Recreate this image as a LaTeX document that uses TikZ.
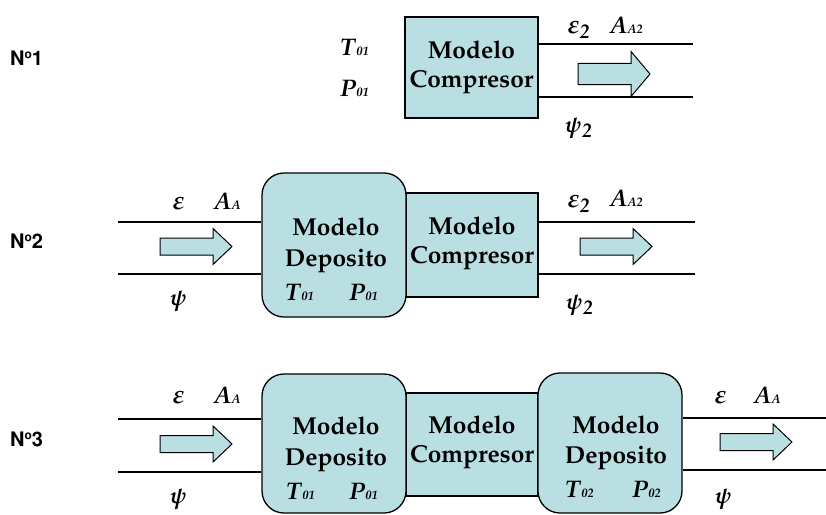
\documentclass[tikz,border=0pt]{standalone}
\usepackage[T1]{fontenc}
\usepackage{mathpazo}
\definecolor{boxfill}{RGB}{185,223,227}
\newcommand{\bsub}[2]{\textbf{\textit{#1}}{\fontsize{12.5}{12.5}\selectfont\bfseries\itshape #2}}
\newcommand{\gsym}[1]{{\boldmath\fontsize{26}{26}\selectfont$#1$}}
\newcommand{\gpsi}{{\boldmath\fontsize{23}{23}\selectfont$\psi$}}
\newcommand{\lowtwo}{\raisebox{-5pt}{\fontsize{20}{20}\selectfont\itshape 2}}
\newcommand{\numlab}[1]{{\fontfamily{phv}\fontseries{b}\selectfont N\raisebox{0.32em}{\fontsize{12}{12}\selectfont o}#1}}
\begin{document}
\begin{tikzpicture}[x=1pt,y=-1pt,
  pipe/.style={line width=1.3pt},
  cbox/.style={draw, line width=1.3pt, fill=boxfill, inner sep=0pt},
  dbox/.style={cbox, rounded corners=22pt},
  big/.style={font=\fontsize{24.5}{28}\selectfont\bfseries, anchor=base, inner sep=0pt},
  sym/.style={font=\fontsize{24}{24}\selectfont\bfseries, anchor=base west, inner sep=0pt},
  num/.style={font=\fontsize{20}{20}\selectfont, anchor=base west, inner sep=0pt},
  flow/.pic={\draw[line width=1pt, fill=boxfill] (0,-8.5) -- (53,-8.5) -- (53,-18) -- (72,0) -- (53,18) -- (53,8.5) -- (0,8.5) -- cycle;}
]
\useasboundingbox (0,0) rectangle (826,514);

% ---------- Row 1 ----------
\node[num] (n1) at (10,65) {\numlab{1}};
\node[cbox, minimum width=133pt, minimum height=101pt] (c1) at (471.5,67.5) {};
\node[big] (c1a) at (471.5,58) {Modelo};
\node[big] (c1b) at (471.5,87) {Compresor};
\node[sym] (t1) at (340,55) {\bsub{T}{01}};
\node[sym] (p1) at (340,96) {\bsub{P}{01}};
\coordinate (r1t) at (693,44);
\coordinate (r1b) at (693,97);
\draw[pipe] (c1.east |- r1t) -- (r1t);
\draw[pipe] (c1.east |- r1b) -- (r1b);
\pic[yscale=1.25] at (578,74) {flow};
\node[sym] (e1) at (567,33) {\gsym{\varepsilon}\lowtwo};
\node[sym] (a1) at (610,33) {\bsub{A}{A2}};
\node[sym] (s1) at (564,132) {\gpsi\lowtwo};

% ---------- Row 2 ----------
\node[num] (n2) at (10,248) {\numlab{2}};
\node[cbox, minimum width=132pt, minimum height=104pt] (c2) at (472,245) {};
\node[dbox, minimum width=144pt, minimum height=144pt] (d2) at (334,245) {};
\node[big] (d2a) at (336,235) {Modelo};
\node[big] (d2b) at (336,266) {Deposito};
\node[sym] (t2) at (285,300) {\bsub{T}{01}};
\node[sym] (p2) at (349,300) {\bsub{P}{01}};
\node[big] (c2a) at (472,234) {Modelo};
\node[big] (c2b) at (472,263) {Compresor};
\coordinate (l2t) at (118,222);
\coordinate (l2b) at (118,274);
\draw[pipe] (l2t) -- (d2.west |- l2t);
\draw[pipe] (l2b) -- (d2.west |- l2b);
\coordinate (r2t) at (695,222);
\coordinate (r2b) at (695,274);
\draw[pipe] (c2.east |- r2t) -- (r2t);
\draw[pipe] (c2.east |- r2b) -- (r2b);
\pic at (160,246.5) {flow};
\pic at (580,246.5) {flow};
\node[sym] (e2) at (172,209) {\gsym{\varepsilon}};
\node[sym] (a2) at (214,209) {\bsub{A}{A}};
\node[sym] (s2) at (169,305) {\gpsi};
\node[sym] (e2b) at (567,207) {\gsym{\varepsilon}\lowtwo};
\node[sym] (a2b) at (610,206) {\bsub{A}{A2}};
\node[sym] (s2b) at (565,309) {\gpsi\lowtwo};

% ---------- Row 3 ----------
\node[num] (n3) at (10,446) {\numlab{3}};
\node[cbox, minimum width=132pt, minimum height=103pt] (c3) at (472,444.5) {};
\node[dbox, minimum width=144pt, minimum height=139pt] (d3) at (334,443.5) {};
\node[dbox, minimum width=144pt, minimum height=140pt] (d4) at (610,443) {};
\node[big] (d3a) at (336,434) {Modelo};
\node[big] (d3b) at (336,465) {Deposito};
\node[sym] (t3) at (286,499) {\bsub{T}{01}};
\node[sym] (p3) at (349,499) {\bsub{P}{01}};
\node[big] (c3a) at (472,433) {Modelo};
\node[big] (c3b) at (472,462) {Compresor};
\node[big] (d4a) at (616,433) {Modelo};
\node[big] (d4b) at (616,463) {Deposito};
\node[sym] (t4) at (565,497) {\bsub{T}{02}};
\node[sym] (p4) at (632,497) {\bsub{P}{02}};
\coordinate (l3t) at (118,419);
\coordinate (l3b) at (118,472);
\draw[pipe] (l3t) -- (d3.west |- l3t);
\draw[pipe] (l3b) -- (d3.west |- l3b);
\coordinate (r3t) at (826,418);
\coordinate (r3b) at (826,470);
\draw[pipe] (d4.east |- r3t) -- (r3t);
\draw[pipe] (d4.east |- r3b) -- (r3b);
\pic at (160,444) {flow};
\pic at (720,442) {flow};
\node[sym] (e3) at (172,403) {\gsym{\varepsilon}};
\node[sym] (a3) at (214,403) {\bsub{A}{A}};
\node[sym] (s3) at (169,503) {\gpsi};
\node[sym] (e4) at (714,403) {\gsym{\varepsilon}};
\node[sym] (a4) at (754,403) {\bsub{A}{A}};
\node[sym] (s4) at (714,503) {\gpsi};
\end{tikzpicture}
\end{document}
